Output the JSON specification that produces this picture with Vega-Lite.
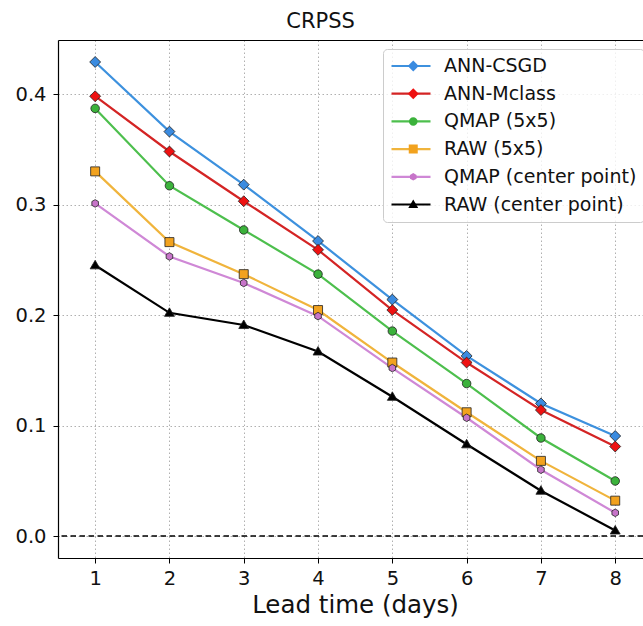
{
  "$schema": "https://vega.github.io/schema/vega-lite/v6.json",
  "width": 585,
  "height": 518,
  "autosize": {"type": "none"},
  "padding": {"left": 58, "top": 40, "right": 0, "bottom": 68},
  "background": "white",
  "title": {"text": "CRPSS", "fontSize": 21, "font": "DejaVu Sans", "fontWeight": "normal", "color": "#111111", "offset": 8, "dx": -30},
  "config": {
    "view": {"stroke": null},
    "font": "DejaVu Sans",
    "axis": {
      "labelFont": "DejaVu Sans",
      "labelFontSize": 19.5,
      "labelColor": "#111111",
      "titleFont": "DejaVu Sans",
      "titleFontWeight": "normal",
      "titleColor": "#111111",
      "domainColor": "#000000",
      "domainWidth": 1.2,
      "tickColor": "#000000",
      "tickWidth": 1,
      "tickSize": 5,
      "gridColor": "#b0b0b0",
      "gridDash": [1.5, 2.5],
      "gridWidth": 1
    }
  },
  "datasets": {
    "crpss": [
      {"series": "ANN-CSGD", "ord": 1, "lead": 1, "crpss": 0.429},
      {"series": "ANN-CSGD", "ord": 1, "lead": 2, "crpss": 0.366},
      {"series": "ANN-CSGD", "ord": 1, "lead": 3, "crpss": 0.318},
      {"series": "ANN-CSGD", "ord": 1, "lead": 4, "crpss": 0.267},
      {"series": "ANN-CSGD", "ord": 1, "lead": 5, "crpss": 0.214},
      {"series": "ANN-CSGD", "ord": 1, "lead": 6, "crpss": 0.163},
      {"series": "ANN-CSGD", "ord": 1, "lead": 7, "crpss": 0.120},
      {"series": "ANN-CSGD", "ord": 1, "lead": 8, "crpss": 0.0905},
      {"series": "ANN-Mclass", "ord": 2, "lead": 1, "crpss": 0.398},
      {"series": "ANN-Mclass", "ord": 2, "lead": 2, "crpss": 0.348},
      {"series": "ANN-Mclass", "ord": 2, "lead": 3, "crpss": 0.303},
      {"series": "ANN-Mclass", "ord": 2, "lead": 4, "crpss": 0.259},
      {"series": "ANN-Mclass", "ord": 2, "lead": 5, "crpss": 0.2045},
      {"series": "ANN-Mclass", "ord": 2, "lead": 6, "crpss": 0.157},
      {"series": "ANN-Mclass", "ord": 2, "lead": 7, "crpss": 0.114},
      {"series": "ANN-Mclass", "ord": 2, "lead": 8, "crpss": 0.081},
      {"series": "QMAP (5x5)", "ord": 3, "lead": 1, "crpss": 0.387},
      {"series": "QMAP (5x5)", "ord": 3, "lead": 2, "crpss": 0.317},
      {"series": "QMAP (5x5)", "ord": 3, "lead": 3, "crpss": 0.277},
      {"series": "QMAP (5x5)", "ord": 3, "lead": 4, "crpss": 0.237},
      {"series": "QMAP (5x5)", "ord": 3, "lead": 5, "crpss": 0.1855},
      {"series": "QMAP (5x5)", "ord": 3, "lead": 6, "crpss": 0.138},
      {"series": "QMAP (5x5)", "ord": 3, "lead": 7, "crpss": 0.0887},
      {"series": "QMAP (5x5)", "ord": 3, "lead": 8, "crpss": 0.0498},
      {"series": "RAW (5x5)", "ord": 4, "lead": 1, "crpss": 0.330},
      {"series": "RAW (5x5)", "ord": 4, "lead": 2, "crpss": 0.266},
      {"series": "RAW (5x5)", "ord": 4, "lead": 3, "crpss": 0.237},
      {"series": "RAW (5x5)", "ord": 4, "lead": 4, "crpss": 0.2045},
      {"series": "RAW (5x5)", "ord": 4, "lead": 5, "crpss": 0.157},
      {"series": "RAW (5x5)", "ord": 4, "lead": 6, "crpss": 0.112},
      {"series": "RAW (5x5)", "ord": 4, "lead": 7, "crpss": 0.068},
      {"series": "RAW (5x5)", "ord": 4, "lead": 8, "crpss": 0.032},
      {"series": "QMAP (center point)", "ord": 5, "lead": 1, "crpss": 0.301},
      {"series": "QMAP (center point)", "ord": 5, "lead": 2, "crpss": 0.253},
      {"series": "QMAP (center point)", "ord": 5, "lead": 3, "crpss": 0.229},
      {"series": "QMAP (center point)", "ord": 5, "lead": 4, "crpss": 0.199},
      {"series": "QMAP (center point)", "ord": 5, "lead": 5, "crpss": 0.152},
      {"series": "QMAP (center point)", "ord": 5, "lead": 6, "crpss": 0.107},
      {"series": "QMAP (center point)", "ord": 5, "lead": 7, "crpss": 0.060},
      {"series": "QMAP (center point)", "ord": 5, "lead": 8, "crpss": 0.021},
      {"series": "RAW (center point)", "ord": 6, "lead": 1, "crpss": 0.245},
      {"series": "RAW (center point)", "ord": 6, "lead": 2, "crpss": 0.202},
      {"series": "RAW (center point)", "ord": 6, "lead": 3, "crpss": 0.191},
      {"series": "RAW (center point)", "ord": 6, "lead": 4, "crpss": 0.167},
      {"series": "RAW (center point)", "ord": 6, "lead": 5, "crpss": 0.126},
      {"series": "RAW (center point)", "ord": 6, "lead": 6, "crpss": 0.083},
      {"series": "RAW (center point)", "ord": 6, "lead": 7, "crpss": 0.041},
      {"series": "RAW (center point)", "ord": 6, "lead": 8, "crpss": 0.005}
    ]
  },
  "data": {"name": "crpss"},
  "resolve": {"axis": {"x": "independent"}},
  "layer": [
    {
      "data": {"values": [{"y": 0}]},
      "mark": {"type": "rule", "color": "#000000", "strokeWidth": 1.5, "strokeDash": [5.5, 3.5]},
      "encoding": {
        "y": {"field": "y", "type": "quantitative"}
      }
    },
    {
      "mark": {"type": "line", "strokeWidth": 2.2},
      "encoding": {
        "x": {
          "field": "lead", "type": "quantitative",
          "scale": {"domain": [0.5, 8.374], "nice": false, "zero": false},
          "axis": {"values": [1, 2, 3, 4, 5, 6, 7, 8], "format": "d", "grid": true, "title": "Lead time (days)", "titleFontSize": 24.5, "titlePadding": 6, "titleX": 297, "labelPadding": 6}
        },
        "y": {
          "field": "crpss", "type": "quantitative",
          "scale": {"domain": [-0.0199, 0.4489], "nice": false, "zero": false},
          "axis": {"values": [0, 0.1, 0.2, 0.3, 0.4], "format": ".1f", "grid": true, "title": null, "labelPadding": 7}
        },
        "color": {
          "field": "series", "type": "nominal",
          "sort": {"field": "ord"},
          "scale": {"range": ["#3d91de", "#d42424", "#4dbf4d", "#f0b43c", "#cf88d6", "#000000"]},
          "legend": {
            "orient": "none", "legendX": 325, "legendY": 9, "title": null,
            "symbolType": "stroke", "symbolSize": 1521, "symbolStrokeWidth": 2.2,
            "labelFont": "DejaVu Sans", "labelFontSize": 19, "labelColor": "#111111", "labelLimit": 400,
            "labelOffset": 12, "padding": 7, "strokeColor": "#cccccc", "fillColor": "rgba(255,255,255,0.8)",
            "cornerRadius": 4, "clipHeight": 20, "rowPadding": 7.7
          }
        }
      }
    },
    {
      "mark": {"type": "point", "filled": true, "size": 90, "opacity": 1, "stroke": "#222222", "strokeWidth": 0.8},
      "encoding": {
        "x": {"field": "lead", "type": "quantitative", "axis": null},
        "y": {"field": "crpss", "type": "quantitative"},
        "fill": {
          "field": "series", "type": "nominal",
          "scale": {
            "domain": ["ANN-CSGD", "ANN-Mclass", "QMAP (5x5)", "RAW (5x5)", "QMAP (center point)", "RAW (center point)"],
            "range": ["#3a8be0", "#ee1111", "#3bb23b", "#f2a21e", "#c774c9", "#000000"]
          },
          "legend": {
            "orient": "none", "legendX": 345.75, "legendY": 16, "title": null,
            "symbolSize": 90, "symbolStrokeColor": "#222222", "symbolStrokeWidth": 0.8, "symbolOpacity": 1,
            "labelExpr": "''", "labelFontSize": 19, "padding": 0, "clipHeight": 20, "rowPadding": 7.7
          }
        },
        "shape": {
          "field": "series", "type": "nominal",
          "scale": {
            "domain": ["ANN-CSGD", "ANN-Mclass", "QMAP (5x5)", "RAW (5x5)", "QMAP (center point)", "RAW (center point)"],
            "range": [
              "M0,-1.15L1.15,0L0,1.15L-1.15,0Z",
              "M0,-1.15L1.15,0L0,1.15L-1.15,0Z",
              "M0.9,0A0.9,0.9 0 1,1 -0.9,0A0.9,0.9 0 1,1 0.9,0Z",
              "M-0.95,-0.95H0.95V0.95H-0.95Z",
              "M0,-0.8L0.693,-0.4L0.693,0.4L0,0.8L-0.693,0.4L-0.693,-0.4Z",
              "M0,-1.05L1.05,0.75L-1.05,0.75Z"
            ]
          },
          "legend": {
            "orient": "none", "legendX": 345.75, "legendY": 16, "title": null,
            "symbolSize": 90, "symbolStrokeColor": "#222222", "symbolStrokeWidth": 0.8, "symbolOpacity": 1,
            "labelExpr": "''", "labelFontSize": 19, "padding": 0, "clipHeight": 20, "rowPadding": 7.7
          }
        }
      }
    },
    {
      "mark": {"type": "point", "opacity": 0},
      "encoding": {
        "x": {"field": "lead", "type": "quantitative", "axis": {"orient": "top", "labels": false, "ticks": false, "grid": false, "title": null, "domain": true}},
        "y": {"field": "crpss", "type": "quantitative"}
      }
    }
  ]
}
